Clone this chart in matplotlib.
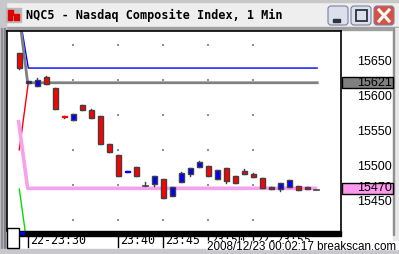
import matplotlib
matplotlib.use("Agg")
import matplotlib.pyplot as plt
from matplotlib.patches import Rectangle, FancyBboxPatch
from matplotlib.transforms import blended_transform_factory

# candles, one per minute starting 23:29
opens = [15664, 15620, 15617, 15629, 15614, 15574, 15568, 15589, 15582, 15573,
         15533, 15518, 15493, 15501, 15474, 15476, 15484, 15459, 15479, 15490,
         15501, 15502, 15484, 15499, 15488, 15495, 15490, 15485, 15472, 15469,
         15472, 15474, 15472, 15467]
closes = [15642, 15623, 15625, 15619, 15583, 15572, 15576, 15582, 15571, 15533,
          15522, 15488, 15495, 15487, 15474, 15487, 15456, 15472, 15492, 15499,
          15507, 15487, 15496, 15481, 15478, 15491, 15486, 15471, 15469, 15478,
          15482, 15467, 15469, 15467]
highs = [15664, 15623, 15628, 15631, 15614, 15574, 15576, 15589, 15584, 15573,
         15533, 15518, 15495, 15501, 15479, 15487, 15484, 15472, 15493, 15499,
         15509, 15502, 15496, 15499, 15488, 15498, 15492, 15485, 15472, 15478,
         15482, 15474, 15472, 15467]
lows = [15640, 15620, 15617, 15619, 15583, 15570, 15568, 15582, 15571, 15533,
        15522, 15488, 15493, 15487, 15474, 15474, 15456, 15459, 15479, 15487,
        15501, 15487, 15484, 15477, 15478, 15491, 15486, 15471, 15469, 15466,
        15472, 15467, 15469, 15467]

# indicator lines (x in candle index)
blue_x, blue_y = [0.25, 1.0, 33.1], [15700, 15642, 15642]
gray_x, gray_y = [0.15, 0.93, 33.1], [15700, 15621, 15621]
red_x, red_y = [1.0, 0.0], [15621, 15525]
pink_x, pink_y = [-0.1, 0.93, 33.1], [15568, 15470, 15470]
green_x, green_y = [0.0, 0.75], [15469, 15400]

tick_idx = [1, 11, 16, 21, 26]
tick_labels = ["22-23:30", "23:40", "23:45", "23:50", "22-23:55"]
grid_idx = [6, 11, 16, 21, 26]
grid_prices = [15425, 15475, 15525, 15575, 15625, 15675]
y_ticks = [15450, 15500, 15550, 15600, 15650]
marker_labels = [(15621, "#808080"), (15470, "#FF99EE")]

W, H = 399, 254
fig = plt.figure(figsize=(W / 100, H / 100), dpi=100)

# window chrome in pixel coordinates
bg = fig.add_axes([0, 0, 1, 1], zorder=0)
bg.set_xlim(0, W)
bg.set_ylim(H, 0)
bg.axis("off")
bg.add_patch(Rectangle((0, 0), W, H, color="white"))
bg.add_patch(Rectangle((0, 0), W, 28, color="#EEEEEE"))
bg.add_patch(Rectangle((0, 0), W, 1.5, color="#C8C8C8"))
bg.add_patch(Rectangle((0, 27), W, 3, color="#A0A0A0"))
bg.add_patch(Rectangle((0, 0), 6, H, color="#C8C8CC"))
bg.add_patch(Rectangle((1, 28), 1, H, color="#909098"))
bg.add_patch(Rectangle((4, 28), 1.2, H, color="#808088"))
bg.add_patch(Rectangle((393, 28), 6, H, color="#E8E8E8"))
bg.add_patch(Rectangle((393, 28), 1, 207, color="#909090"))
bg.add_patch(Rectangle((0, 249), W, 5, color="#C8C8CC"))
# title icon
bg.add_patch(Rectangle((6, 8), 15, 14, color="#B8B8B8"))
bg.add_patch(Rectangle((8, 10), 5, 5, color="#E00000"))
bg.add_patch(Rectangle((14, 14), 5, 6, color="#E00000"))
bg.add_patch(Rectangle((8, 16), 4, 4, color="#E00000"))
bg.text(26, 15, "NQC5 - Nasdaq Composite Index, 1 Min", fontsize=8.5,
        family="DejaVu Sans Mono", fontweight="bold", va="center", ha="left")
# title buttons
for bx, face in [(328, "#DCE0EC"), (351, "#DCE0EC"), (374, "#D85040")]:
    bg.add_patch(FancyBboxPatch((bx, 6), 20, 19, boxstyle="round,pad=0,rounding_size=3",
                                facecolor=face, edgecolor="#7880A0", lw=0.8))
bg.add_patch(Rectangle((333, 19), 7, 2.5, color="#303040"))
bg.add_patch(Rectangle((355.5, 10), 11, 11, fill=False, edgecolor="#303040", lw=1.3))
bg.plot([379, 389], [10, 21], color="white", lw=2.2)
bg.plot([379, 389], [21, 10], color="white", lw=2.2)

# main chart
ax = fig.add_axes([7 / W, (H - 231) / H, 334 / W, 200 / H], zorder=1)
ax.set_facecolor("white")
ax.set_xlim((7 - 19.3) / 9, (341 - 19.3) / 9)
ax.set_ylim(15409, 15695)
ax.set_xticks([])
ax.set_yticks([])
for s in ["top", "left", "right"]:
    ax.spines[s].set_color("black")
    ax.spines[s].set_linewidth(1.2)
ax.spines["bottom"].set_visible(False)

for gx in grid_idx:
    ax.scatter([gx] * len(grid_prices), grid_prices, s=0.8, marker="s",
               color="#909090", lw=0, zorder=1)

ax.plot(blue_x, blue_y, color="#0000FF", lw=1.0, zorder=2)
ax.plot(gray_x, gray_y, color="#808080", lw=2.0, zorder=2)
ax.plot(red_x, red_y, color="#FF0000", lw=1.0, zorder=2)
ax.plot(pink_x, pink_y, color="#F8A0F0", lw=2.6, zorder=2, solid_capstyle="butt")
ax.plot(green_x, green_y, color="#00E000", lw=1.0, zorder=2)

bw = 0.55
for i, (o, c, h, l) in enumerate(zip(opens, closes, highs, lows)):
    ax.plot([i, i], [l, h], color="#404040", lw=1.0, zorder=3)
    if o == c:
        ax.plot([i - bw / 2, i + bw / 2], [o, o], color="#404040", lw=1.2, zorder=4)
        continue
    face = "#0000FF" if c > o else "#FF0000"
    edge = face if abs(c - o) <= 2 else "#404040"
    ax.add_patch(Rectangle((i - bw / 2, min(o, c)), bw, abs(c - o),
                           facecolor=face, edgecolor=edge, lw=1.0, zorder=4))

# right price labels
yt = ax.get_yaxis_transform()
for p in y_ticks:
    ax.text(1.1527, p, str(p), transform=yt, ha="right", va="center",
            fontsize=9, family="Liberation Sans", clip_on=False)
for p, col in marker_labels:
    ax.add_patch(Rectangle(((342 - 7) / 334, p - 8), (393 - 342) / 334, 16,
                           transform=yt, facecolor=col, edgecolor="black",
                           lw=1.0, clip_on=False, zorder=5))
    ax.text(1.1527, p, str(p), transform=yt, ha="right", va="center",
            fontsize=9, family="Liberation Sans", clip_on=False, zorder=6)

# time axis
bx_tr = blended_transform_factory(ax.transData, fig.transFigure)
for ti, lab in zip(tick_idx, tick_labels):
    ax.plot([ti, ti], [(H - 235) / H, (H - 247) / H], transform=bx_tr,
            color="black", lw=1.0, clip_on=False)
    ax.text(ti + 0.17, (H - 241) / H, lab, transform=bx_tr, ha="left",
            va="center", fontsize=8.4, family="DejaVu Sans Mono", clip_on=False)

# overlay pieces in pixel coordinates
ov = fig.add_axes([0, 0, 1, 1], zorder=2)
ov.set_xlim(0, W)
ov.set_ylim(H, 0)
ov.axis("off")
ov.patch.set_alpha(0)
ov.add_patch(Rectangle((20, 231), 321, 4.5, color="black"))
ov.add_patch(Rectangle((20, 231.5), 3.5, 2, color="#0000FF"))
ov.add_patch(Rectangle((6.5, 228), 12.5, 20, facecolor="white", edgecolor="black", lw=1.0))
ov.add_patch(Rectangle((206, 241), 193, 8, color="white"))
ov.text(207, 247, "2008/12/23 00:02:17 breakscan.com", fontsize=8.4,
        family="Liberation Sans", ha="left", va="center")

fig.savefig("out.png", dpi=100)
